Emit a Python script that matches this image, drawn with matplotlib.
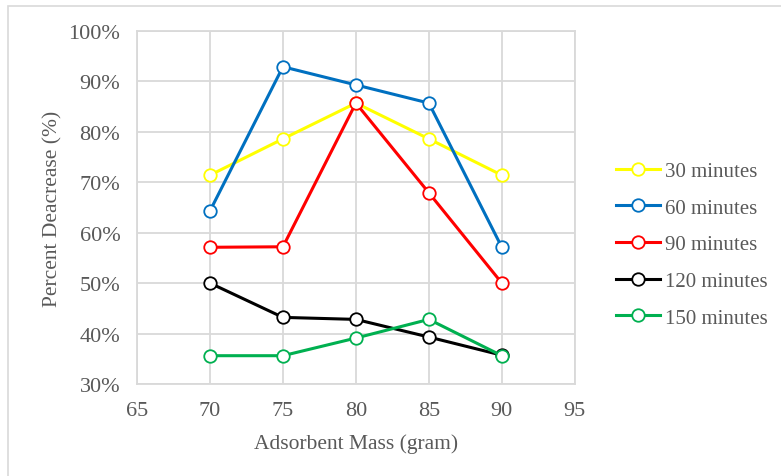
import matplotlib.pyplot as plt
from matplotlib.patches import Rectangle
from matplotlib.ticker import FuncFormatter

# data
mass = [70, 75, 80, 85, 90]   # adsorbent mass (gram)
p30 = [71.4, 78.6, 85.7, 78.6, 71.4]
p60 = [64.3, 92.9, 89.3, 85.7, 57.1]
p90 = [57.1, 57.2, 85.7, 67.9, 50.0]
p120 = [50.0, 43.2, 42.8, 39.3, 35.7]
p150 = [35.6, 35.6, 39.1, 42.8, 35.6]
labels = ["30 minutes", "60 minutes", "90 minutes", "120 minutes", "150 minutes"]
colors = ["#FFFF00", "#0070C0", "#FF0000", "#000000", "#00B050"]

plt.rcParams['font.family'] = ['Liberation Serif', 'DejaVu Serif']
txt = "#595959"
grid = "#D9D9D9"

fig = plt.figure(figsize=(7.81, 4.77), dpi=100)
# outer chart border
fig.patches.append(Rectangle((0.010, -0.01), 1.1, 0.996, transform=fig.transFigure,
                             fill=False, edgecolor=grid, linewidth=1.2))
ax = fig.add_axes([0.1754, 0.193, 0.5606, 0.740])

for y, lab, c in zip([p30, p60, p90, p120, p150], labels, colors):
    ax.plot(mass, y, '-o', color=c, linewidth=2.2, markersize=9,
            markerfacecolor='white', markeredgecolor=c, markeredgewidth=1.3,
            label=lab, zorder=3)

ax.set_xlim(65, 95)
ax.set_ylim(30, 100)
ax.set_xticks(range(65, 96, 5))
ax.set_yticks(range(30, 101, 10))
ax.yaxis.set_major_formatter(FuncFormatter(lambda v, p: "%d%%" % v))
ax.grid(True, color=grid, linewidth=1.3)
ax.set_axisbelow(True)
for s in ax.spines.values():
    s.set_color(grid)
    s.set_linewidth(1.3)
ax.tick_params(length=0, labelsize=16, colors=txt, pad=12)

ax.set_xlabel("Adsorbent Mass (gram)", fontsize=15.5, color=txt, labelpad=9.5)
ax.set_ylabel("Percent Deacrease (%)", fontsize=15.5, color=txt, labelpad=4)

ax.legend(loc='center left', bbox_to_anchor=(1.052, 0.395), frameon=False,
          fontsize=15, labelcolor=txt, handlelength=2.1, handletextpad=0.23,
          labelspacing=0.82)

fig.savefig("out.png", dpi=100)
